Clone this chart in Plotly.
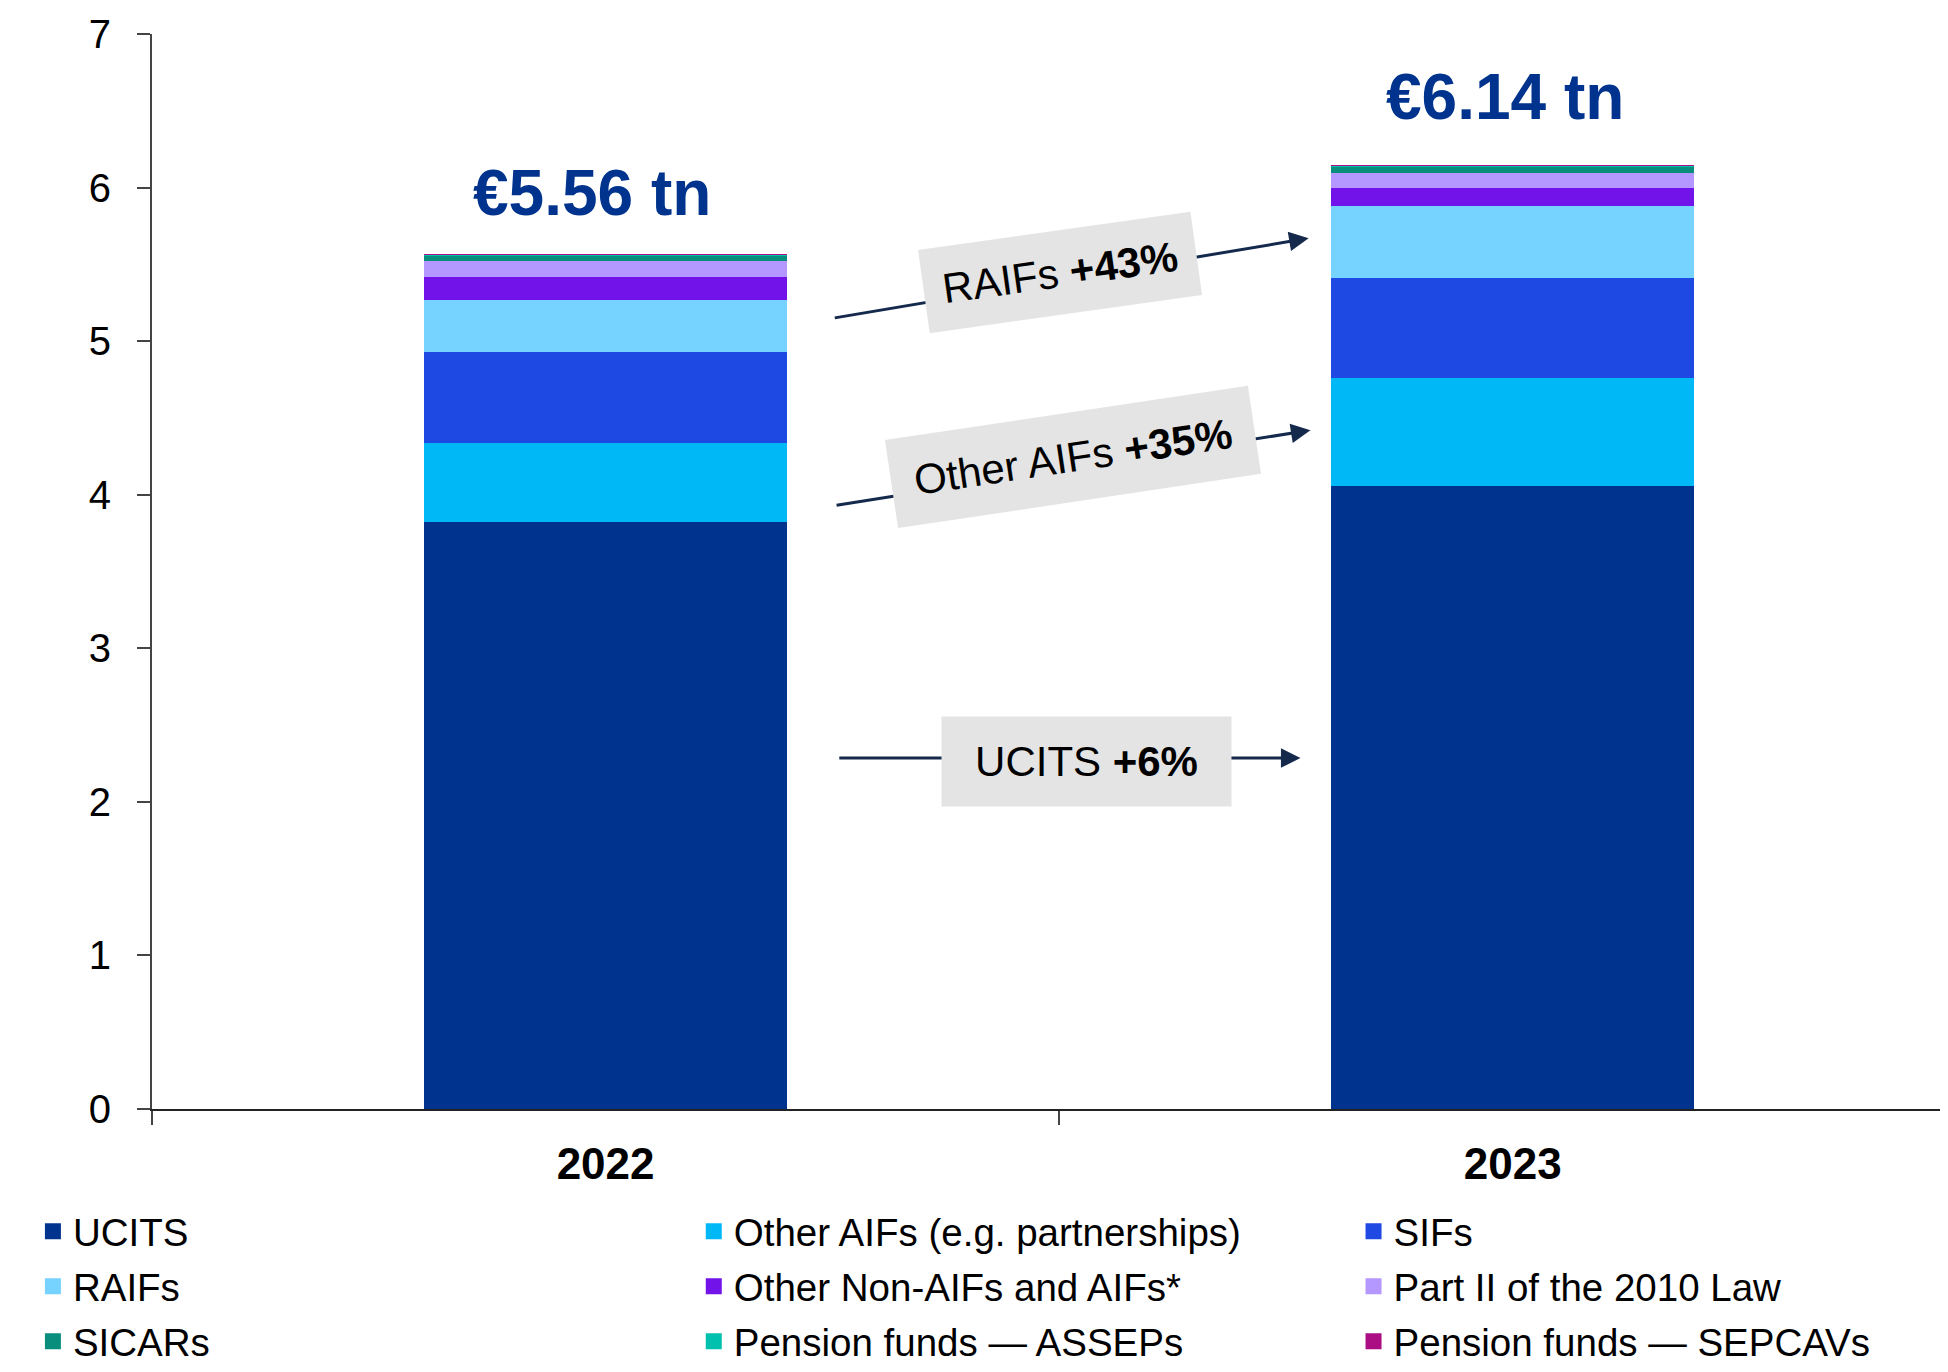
"""ルクセンブルク籍ファンド純資産の推移 (2022 → 2023) を積み上げ棒で描く"""

import plotly.graph_objects as go

FONT = "Arial, 'Liberation Sans', sans-serif"
NAVY = "#00338D"
ARROW = "#14294B"
BOX = "#E4E4E4"

# --- データ (単位: 兆ユーロ) ---
years = ["2022", "2023"]
ucits = [3.82, 4.06]
other_aifs = [0.52, 0.70]
sifs = [0.59, 0.65]
raifs = [0.34, 0.47]
other_non_aifs = [0.15, 0.115]
part_ii = [0.10, 0.10]
sicars = [0.04, 0.045]
asseps = [0.002, 0.002]
sepcavs = [0.001, 0.001]
totals = [5.56, 6.14]
total_labels = ["€5.56 tn", "€6.14 tn"]
growth_labels = ["UCITS <b>+6%</b>", "Other AIFs <b>+35%</b>", "RAIFs <b>+43%</b>"]
y_ticks = [0, 1, 2, 3, 4, 5, 6, 7]

# (名前, 値, 色, 凡例の列)
series = [
    ("UCITS", ucits, "#00338D", "legend"),
    ("Other AIFs (e.g. partnerships)", other_aifs, "#00B8F5", "legend2"),
    ("SIFs", sifs, "#1E49E2", "legend3"),
    ("RAIFs", raifs, "#76D2FF", "legend"),
    ("Other Non-AIFs and AIFs*", other_non_aifs, "#7213EA", "legend2"),
    ("Part II of the 2010 Law", part_ii, "#B497FF", "legend3"),
    ("SICARs", sicars, "#098E7E", "legend"),
    ("Pension funds — ASSEPs", asseps, "#00C0AE", "legend2"),
    ("Pension funds — SEPCAVs", sepcavs, "#AB0D82", "legend3"),
]

fig = go.Figure()

for name, values, color, leg in series:
    fig.add_trace(go.Bar(
        x=years,
        y=values,
        width=0.4,
        marker=dict(color=color, line=dict(width=0)),
        name=name,
        showlegend=False,
        hovertemplate=f"{name}<br>%{{x}}: %{{y:.3f}} tn<extra></extra>",
    ))

# 凡例用のダミー (棒の凡例記号は小さすぎるため正方形マーカーで代用)
for name, values, color, leg in series:
    fig.add_trace(go.Scatter(
        x=[None],
        y=[None],
        mode="markers",
        marker=dict(symbol="square", size=16, color=color),
        name=name,
        legend=leg,
        legendgroup=name,
        showlegend=True,
        hoverinfo="skip",
    ))

# 合計ラベル
label_shift_y = [62, 69]
label_shift_x = [-14, -8]
for i, (year, total) in enumerate(zip(years, totals)):
    fig.add_annotation(
        x=i, y=total, xref="x", yref="y",
        text=f"<b>{total_labels[i]}</b>",
        showarrow=False,
        xanchor="center", yanchor="middle",
        xshift=label_shift_x[i], yshift=label_shift_y[i],
        font=dict(size=64, color=NAVY, family=FONT),
    )


def add_growth_arrow(label, tail, head, center, size, angle):
    """矢印 (tail → head) と、その上に重ねる灰色のラベル箱"""
    fig.add_annotation(
        x=head[0], y=head[1], ax=tail[0], ay=tail[1],
        xref="x", yref="y", axref="x", ayref="y",
        text="", showarrow=True,
        arrowhead=2, arrowsize=1.3, arrowwidth=3, arrowcolor=ARROW,
        standoff=0, startstandoff=0,
    )
    fig.add_annotation(
        x=center[0], y=center[1], xref="x", yref="y",
        text=label, showarrow=False,
        textangle=angle,
        width=size[0], height=size[1],
        borderpad=0, bgcolor=BOX,
        xanchor="center", yanchor="middle",
        font=dict(size=42, color="black", family=FONT),
    )


add_growth_arrow(growth_labels[0], (0.256, 2.285), (0.766, 2.285), (0.530, 2.26), (289, 89), 0)
add_growth_arrow(growth_labels[1], (0.253, 3.93), (0.777, 4.42), (0.515, 4.245), (366, 88), -8.5)
add_growth_arrow(growth_labels[2], (0.251, 5.15), (0.775, 5.67), (0.501, 5.45), (274, 83), -8)

# 図の下端で切れないよう、凡例の行間は元より少しだけ詰める
legend_common = dict(
    y=-0.0843, xanchor="left", yanchor="top",
    orientation="v",
    font=dict(size=38.5, color="black", family=FONT),
    tracegroupgap=2,
    bgcolor="rgba(0,0,0,0)",
    borderwidth=0,
)

fig.update_layout(
    width=1932,
    height=1356,
    margin=dict(l=144, r=0, t=26, b=255, autoexpand=False),
    barmode="stack",
    plot_bgcolor="white",
    paper_bgcolor="white",
    font=dict(family=FONT, color="black"),
    legend=dict(x=-0.0666, **legend_common),
    legend2=dict(x=0.303, **legend_common),
    legend3=dict(x=0.672, **legend_common),
)

fig.update_xaxes(
    type="category",
    range=[-0.5, 1.471],
    showline=True, linecolor="#222", linewidth=2,
    ticks="outside", tickson="boundaries", ticklen=14, tickwidth=2, tickcolor="#444",
    tickfont=dict(size=44, color="black", family=FONT, weight="bold"),
    ticklabelstandoff=15,
    showgrid=False, zeroline=False,
)

fig.update_yaxes(
    range=[0, 7],
    tickvals=y_ticks,
    showline=True, linecolor="#444", linewidth=2,
    ticks="outside", ticklen=13, tickwidth=2, tickcolor="#444",
    tickfont=dict(size=40, color="black", family=FONT),
    ticklabelstandoff=18,
    showgrid=False, zeroline=False,
)

fig.write_html("out.html")
